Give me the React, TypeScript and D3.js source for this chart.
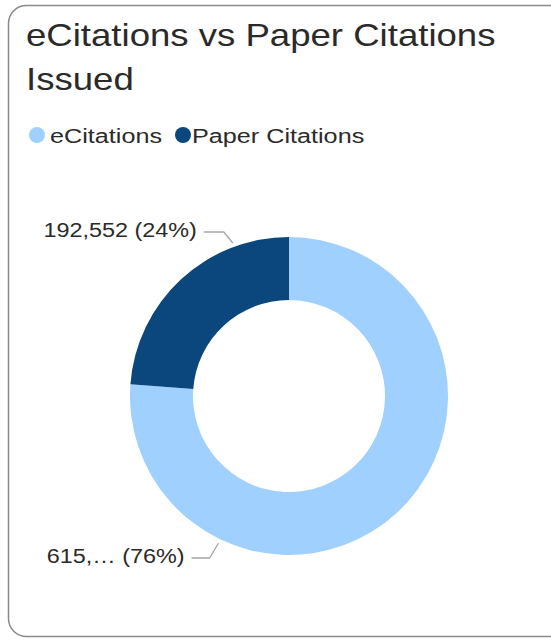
import * as d3 from "d3";

const categories = ["eCitations", "Paper Citations"];
const values = [615318, 192552];
const colors = ["#A0D0FD", "#0B467C"];
// the visual truncates the long label
const truncated = [true, false];
const labelY = [558, 232];

const W = 551;
const H = 641;
const cx = 289;
const cy = 396;
const outerR = 159;
const innerR = 96;
const FONT = "'Liberation Sans', Arial, sans-serif";
const SX = 1.2;

type Datum = { name: string; value: number; color: string; cut: boolean; ly: number };

export default function App() {
  const data: Datum[] = categories.map((c, i) => ({
    name: c,
    value: values[i],
    color: colors[i],
    cut: truncated[i],
    ly: labelY[i],
  }));
  const total = d3.sum(values);
  const pie = d3
    .pie<Datum>()
    .value((d) => d.value)
    .sort(null);
  const arc = d3.arc<d3.PieArcDatum<Datum>>().innerRadius(innerR).outerRadius(outerR);
  const arcs = pie(data);
  const fmt = d3.format(",");

  return (
    <svg
      width={W}
      height={H}
      style={{ position: "absolute", left: 0, top: 0, display: "block" }}
      fontFamily={FONT}
    >
      <rect x={8.5} y={5.5} width={640} height={631} rx={18} fill="#fff" stroke="#8a8a8a" strokeWidth={1.5} />
      <g fill="#2b2a29" fontSize={31}>
        <text transform={`translate(26,46) scale(1.18,1)`}>eCitations vs Paper Citations</text>
        <text transform={`translate(26,90) scale(1.18,1)`}>Issued</text>
      </g>
      <g fontSize={21} fill="#2b2a29">
        {data.map((d, i) => {
          const x0 = i === 0 ? 37 : 183;
          const gap = i === 0 ? 13 : 9;
          return (
            <g key={d.name}>
              <circle cx={x0} cy={135} r={8} fill={d.color} />
              <text transform={`translate(${x0 + gap},143) scale(${SX},1)`}>{d.name}</text>
            </g>
          );
        })}
      </g>
      <g transform={`translate(${cx},${cy})`}>
        {arcs.map((a) => (
          <path key={a.data.name} d={arc(a) ?? ""} fill={a.data.color} />
        ))}
      </g>
      {arcs.map((a) => {
        const d = a.data;
        const pct = Math.round((d.value / total) * 100);
        const num = fmt(d.value);
        const txt = `${d.cut ? num.split(",")[0] + ",…" : num} (${pct}%)`;
        const R = outerR + 4;
        const dy = d.ly < cy ? 11 : -15;
        const ey = d.ly + dy;
        const ex = cx - Math.sqrt(R * R - (ey - cy) * (ey - cy));
        const elbow = ex - 9;
        const start = elbow - (d.ly < cy ? 20 : 18);
        return (
          <g key={d.name + "-label"}>
            <path
              d={`M${start},${d.ly}L${elbow},${d.ly}L${ex},${ey}`}
              fill="none"
              stroke="#a6a6a6"
              strokeWidth={1.3}
            />
            <text
              transform={`translate(${start - 7},${d.ly + 5}) scale(${SX},1)`}
              textAnchor="end"
              fontSize={19.5}
              fill="#2b2a29"
            >
              {txt}
            </text>
          </g>
        );
      })}
    </svg>
  );
}
